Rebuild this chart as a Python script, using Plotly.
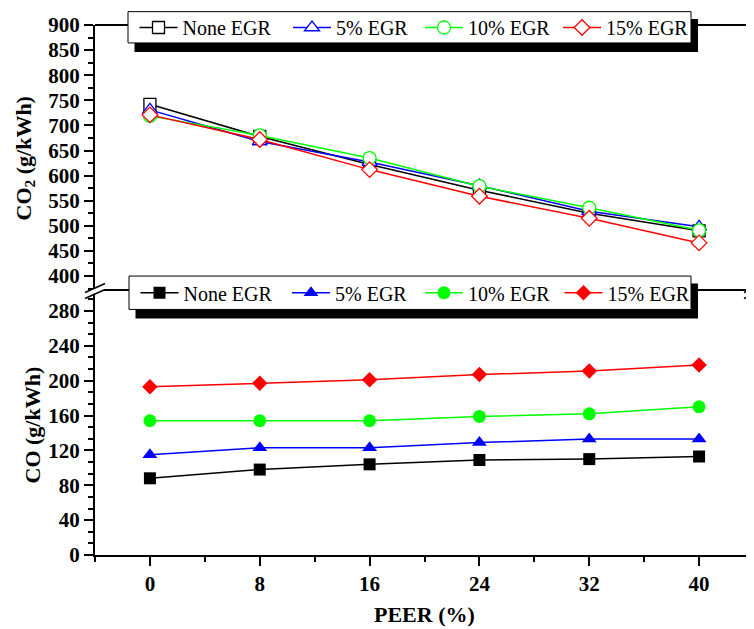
import plotly.graph_objects as go

# ---------------- data ----------------
peer = [0, 8, 16, 24, 32, 40]
series_names = ["None EGR", "5% EGR", "10% EGR", "15% EGR"]

co2_none = [742, 678, 622, 571, 525, 490]
co2_egr5 = [731, 668, 627, 580, 529, 498]
co2_egr10 = [719, 680, 635, 579, 536, 491]
co2_egr15 = [721, 672, 612, 559, 515, 466]

co_none = [88, 98, 104, 109, 110, 113]
co_egr5 = [115, 123, 123, 129, 133, 133]
co_egr10 = [154, 154, 154, 159, 162, 170]
co_egr15 = [193, 197, 201, 207, 211, 218]

co2_series = [co2_none, co2_egr5, co2_egr10, co2_egr15]
co_series = [co_none, co_egr5, co_egr10, co_egr15]

# ---------------- styles ----------------
colors = ["#000000", "#0000FF", "#00FF00", "#FF0000"]
symbols = ["square", "triangle-up", "circle", "diamond"]
sizes = [12, 13, 13, 12]
FONT = "Liberation Serif, Times New Roman, serif"

# page has an 8px body margin; figure sized so the plot area lands where the reference has it
PAGE_OFF = 8
W, H = 746, 621
L, R, T, B = 87, 0, 15, 74
PW, PH = W - L - R, H - T - B
X0 = PAGE_OFF + L          # page x of plot left
Y1 = PAGE_OFF + H - B      # page y of plot bottom


def fx(px):
    return (px - X0) / PW


def fy(py):
    return (Y1 - py) / PH


# legend item placement (page px): symbol centres and box centre line
top_sym_x = [154.5, 308, 440, 578]
bot_sym_x = [155.5, 307, 440, 579.5]
top_leg_y = 25.3
bot_leg_y = 291.8

fig = go.Figure()

for i, (name, vals, c, s, sz) in enumerate(zip(series_names, co2_series, colors, symbols, sizes)):
    fig.add_trace(go.Scatter(
        x=peer, y=vals, name=name, mode="lines+markers",
        xaxis="x2", yaxis="y2", legend="legend" if i == 0 else "legend%d" % (i + 1),
        line=dict(color=c, width=1.5),
        marker=dict(symbol=s, size=sz, color="white", line=dict(color=c, width=1.3)),
    ))

for i, (name, vals, c, s, sz) in enumerate(zip(series_names, co_series, colors, symbols, sizes)):
    fig.add_trace(go.Scatter(
        x=peer, y=vals, name=name, mode="lines+markers",
        xaxis="x", yaxis="y", legend="legend%d" % (i + 5),
        line=dict(color=c, width=1.5),
        marker=dict(symbol=s, size=sz, color=c, line=dict(width=0)),
    ))

tickfont = dict(family=FONT, size=21, color="black", weight="bold")
axis_common = dict(showgrid=False, zeroline=False, showline=True, linecolor="black",
                   linewidth=2, ticks="outside", ticklen=9, tickwidth=2, tickcolor="black",
                   tickfont=tickfont)


def leg(px, py):
    return dict(orientation="h", x=fx(px - 20), y=fy(py), xanchor="left", yanchor="middle",
                bgcolor="rgba(0,0,0,0)", borderwidth=0, itemwidth=38,
                font=dict(family=FONT, size=20, color="black"))


legends = {}
for i in range(4):
    key = "legend" if i == 0 else "legend%d" % (i + 1)
    legends[key] = leg(top_sym_x[i], top_leg_y)
for i in range(4):
    legends["legend%d" % (i + 5)] = leg(bot_sym_x[i], bot_leg_y)

fig.update_layout(
    width=W, height=H,
    margin=dict(l=L, r=R, t=T, b=B),
    paper_bgcolor="white", plot_bgcolor="white",
    showlegend=True,
    xaxis=dict(domain=[0, 1], anchor="y", range=[-4, 44], tickmode="linear", tick0=0, dtick=8,
               minor=dict(dtick=4, ticklen=5, tickwidth=2, ticks="outside", tickcolor="black"),
               **axis_common),
    xaxis2=dict(domain=[0, 1], anchor="y2", range=[-4, 44], matches="x", visible=False),
    yaxis=dict(domain=[0, 0.5], anchor="x", range=[0, 304], tickmode="linear", tick0=0, dtick=40,
               minor=dict(dtick=40 / 3, ticklen=5, tickwidth=2, ticks="outside", tickcolor="black"),
               **axis_common),
    yaxis2=dict(domain=[0.5, 1], anchor="x2", range=[372.2, 900], tickmode="linear", tick0=400, dtick=50,
                minor=dict(dtick=25, ticklen=5, tickwidth=2, ticks="outside", tickcolor="black"),
                **axis_common),
    **legends,
)

shapes = []
# top frame line and break line
shapes.append(dict(type="line", xref="paper", yref="paper", layer="below",
                   x0=0, x1=1, y0=1, y1=1, line=dict(color="black", width=2)))
shapes.append(dict(type="line", xref="paper", yref="paper", layer="below",
                   x0=fx(99), x1=1, y0=0.5, y1=0.5, line=dict(color="black", width=2)))
# legend shadows and boxes
for (bx0, by0, bx1, by1) in [(128, 9.6, 691, 41), (129, 275, 691, 308.5)]:
    shapes.append(dict(type="rect", xref="paper", yref="paper", layer="above",
                       x0=fx(bx0 + 6.5), x1=fx(bx1 + 7), y0=fy(by1 + 9), y1=fy(by0 + 7.5),
                       fillcolor="black", line=dict(width=0)))
    shapes.append(dict(type="rect", xref="paper", yref="paper", layer="above",
                       x0=fx(bx0), x1=fx(bx1), y0=fy(by1), y1=fy(by0),
                       fillcolor="white", line=dict(color="black", width=1)))
# axis break marks (left and right)
for cx in (95, 754):
    shapes.append(dict(type="path", xref="paper", yref="paper", layer="above",
                       path="M {},{} L {},{} L {},{} L {},{} Z".format(
                           fx(cx - 9), fy(291), fx(cx + 9), fy(283),
                           fx(cx + 9), fy(289), fx(cx - 9), fy(297)),
                       fillcolor="white", line=dict(width=0)))
    for dy in (0, 6):
        shapes.append(dict(type="line", xref="paper", yref="paper", layer="above",
                           x0=fx(cx - 10), y0=fy(291.5 + dy), x1=fx(cx + 10), y1=fy(282.5 + dy),
                           line=dict(color="black", width=1.5)))
fig.update_layout(shapes=shapes)

title_font = dict(family=FONT, size=22, color="black", weight="bold")
fig.update_layout(annotations=[
    dict(text="CO<sub>2</sub> (g/kWh)", xref="paper", yref="paper", x=fx(25), y=fy(157),
         textangle=-90, showarrow=False, font=title_font, xanchor="center", yanchor="middle"),
    dict(text="CO (g/kWh)", xref="paper", yref="paper", x=fx(32), y=fy(425),
         textangle=-90, showarrow=False, font=title_font, xanchor="center", yanchor="middle"),
    dict(text="PEER (%)", xref="paper", yref="paper", x=fx(424.5), y=fy(615),
         showarrow=False, font=title_font, xanchor="center", yanchor="middle"),
])

fig.write_html("out.html")
